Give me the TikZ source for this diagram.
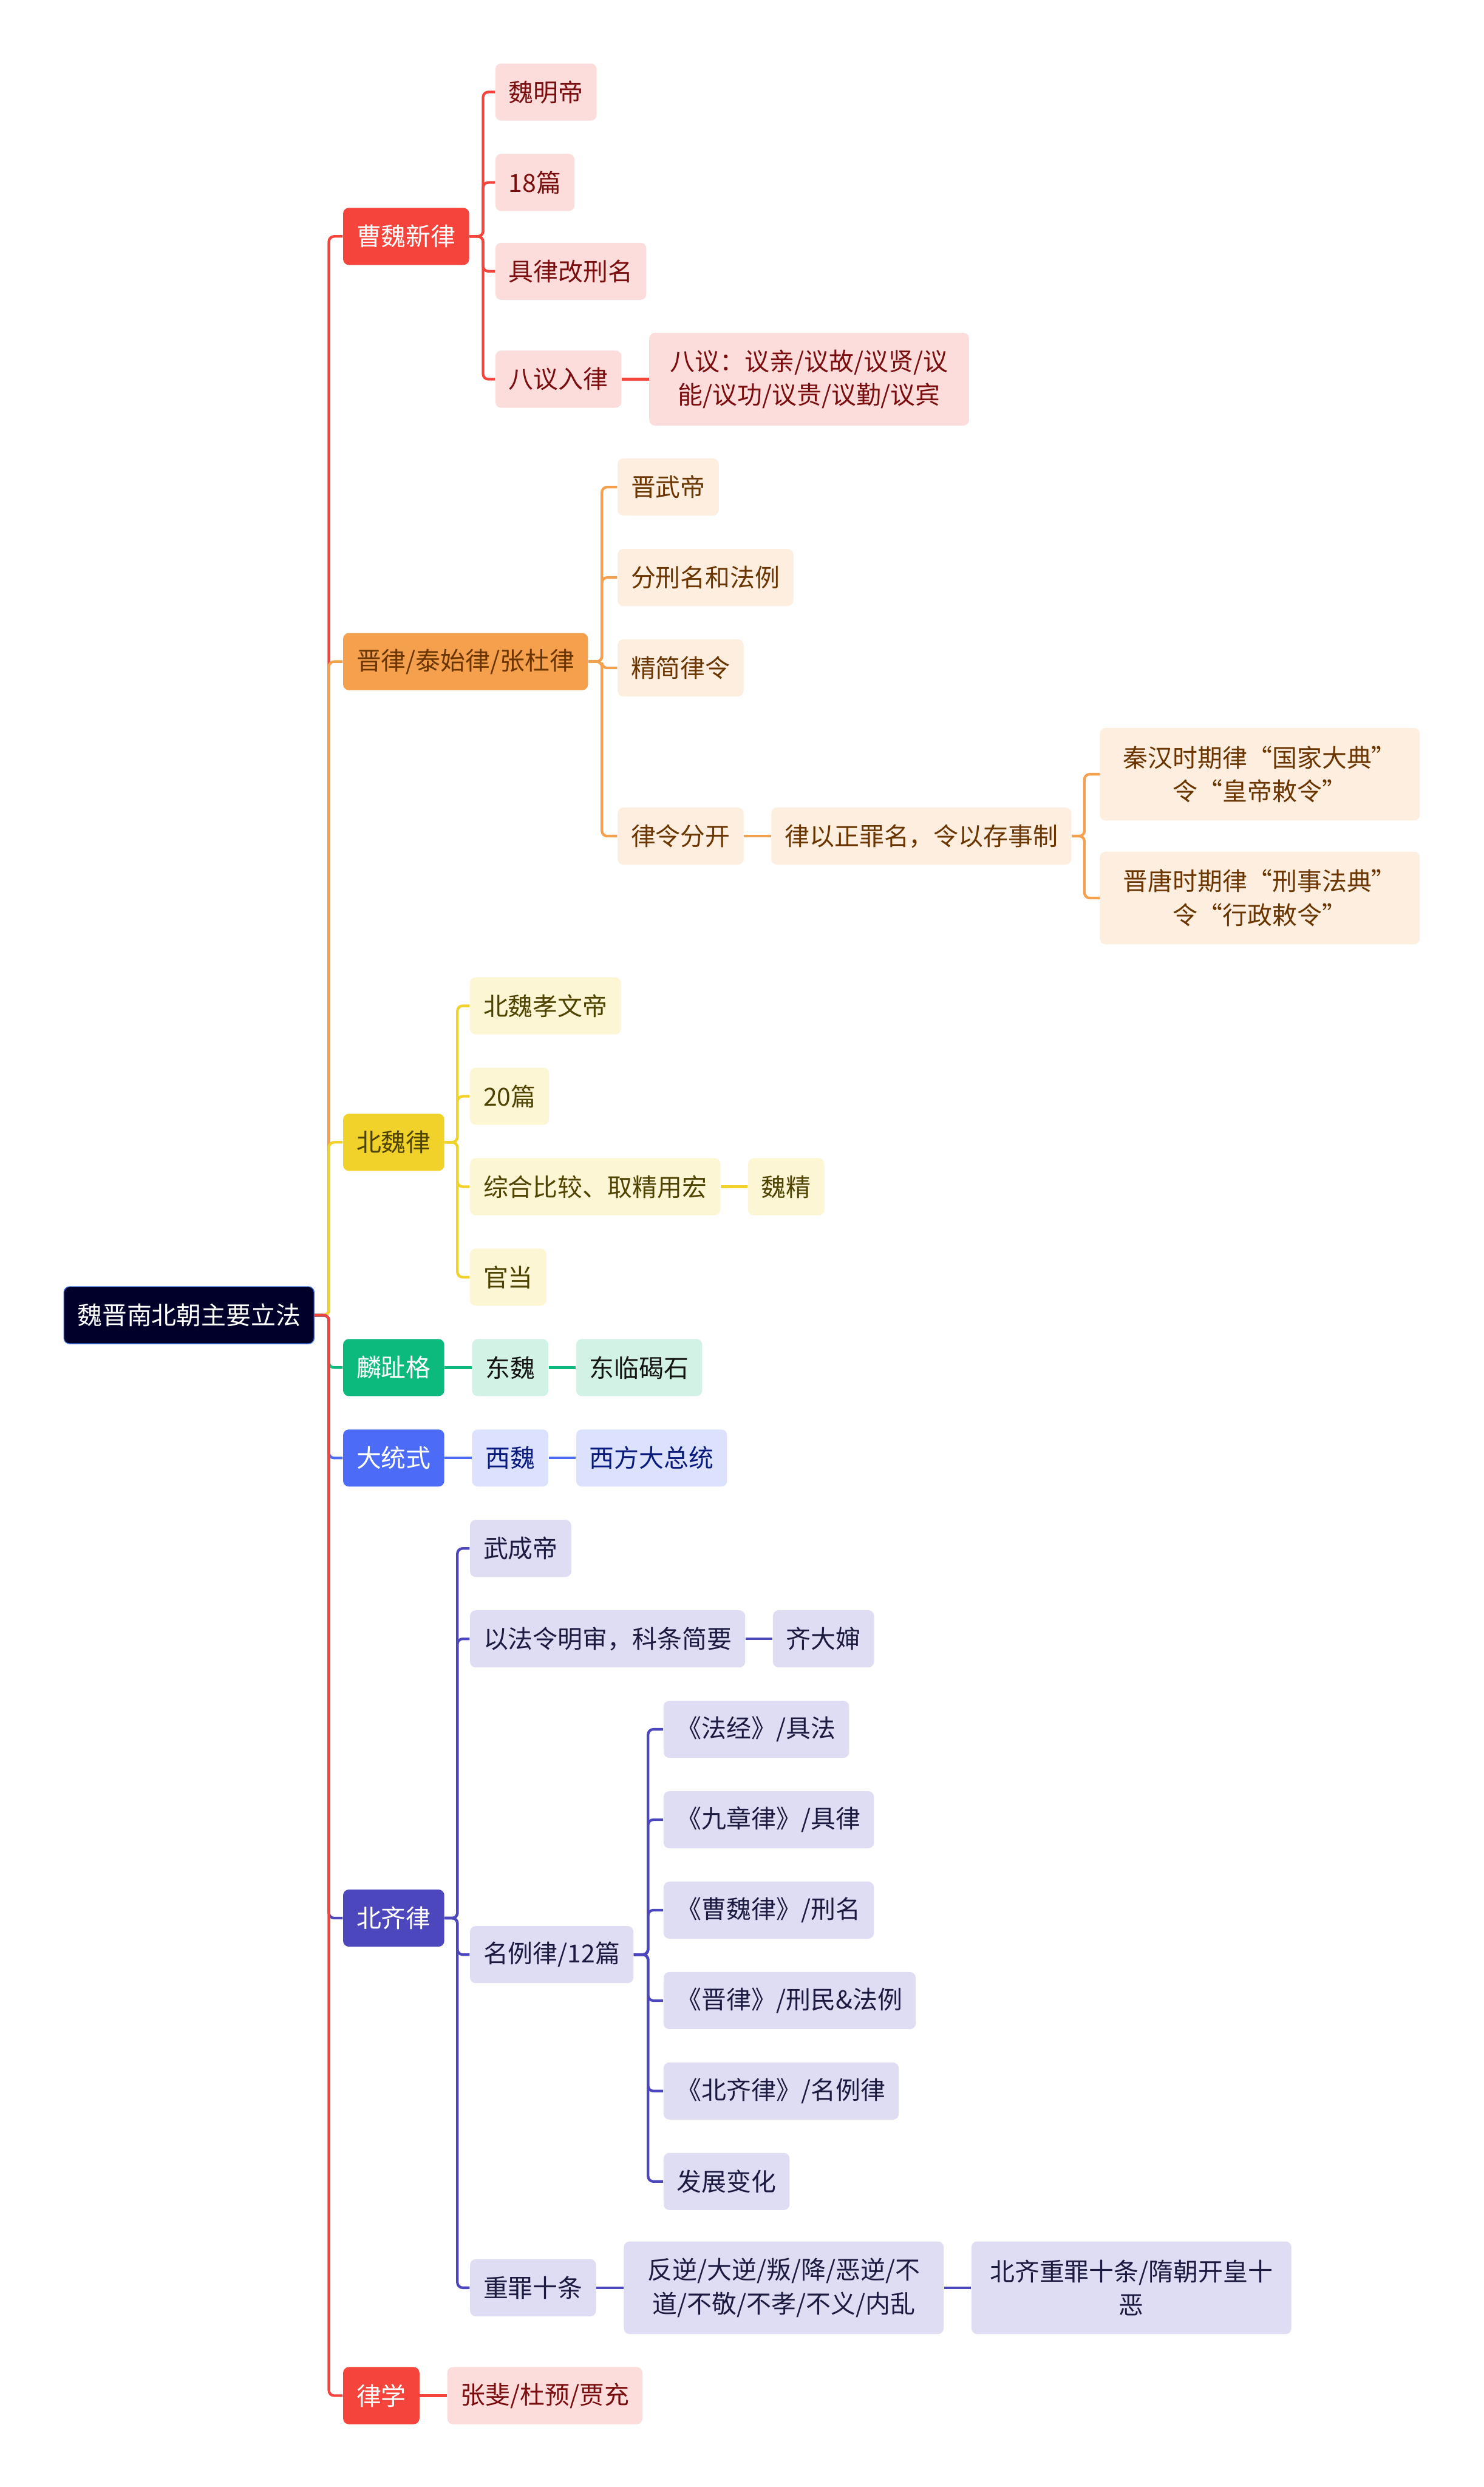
\documentclass[tikz,border=0pt]{standalone}
\usepackage{fontspec}
\newfontfamily\cjk{Noto Sans CJK SC}
\usetikzlibrary{positioning}

\definecolor{rootbg}{HTML}{00002A}
\definecolor{rootline}{HTML}{3F6FDB}
\definecolor{cwred}{HTML}{F5443B}
\definecolor{cwlight}{HTML}{FDDCDC}
\definecolor{cwtext}{HTML}{7A0D0D}
\definecolor{jlorange}{HTML}{F4A04D}
\definecolor{jllight}{HTML}{FDEEDF}
\definecolor{jltext}{HTML}{6B3500}
\definecolor{bwyellow}{HTML}{F0D22A}
\definecolor{bwlight}{HTML}{FCF6D5}
\definecolor{bwtext}{HTML}{4F4300}
\definecolor{lzgreen}{HTML}{0DBA7D}
\definecolor{lzlight}{HTML}{D1F2E4}
\definecolor{lztext}{HTML}{141414}
\definecolor{dtblue}{HTML}{4C6CF7}
\definecolor{dtlight}{HTML}{DCE2FD}
\definecolor{dttext}{HTML}{0A1B7E}
\definecolor{bqpurple}{HTML}{4D47BE}
\definecolor{bqlight}{HTML}{DEDDF3}
\definecolor{bqtext}{HTML}{1C1A40}

\begin{document}
\begin{tikzpicture}[
  x=0.2738mm, y=-0.2738mm,
  node distance=4.65mm,
  box/.style={rounded corners=1mm, inner xsep=2.3mm, inner ysep=1mm, minimum height=9.86mm, align=center, font={\cjk\fontsize{12.2pt}{16.5pt}\selectfont}},
  root/.style={box, fill=rootbg, draw=rootline, line width=0.15mm, text=white},
  item/.style 2 args={box, fill=#1, text=#2},
  wide/.style={text width=50.6mm, minimum height=16mm},
  link/.style={draw=#1, line width=0.45mm, rounded corners=0.9mm}
]
\fill[white] (0,0) rectangle (935,1567.6);
\useasboundingbox (0,0) rectangle (935,1567.6);

% root and main branches
\node[root, anchor=west] (root) at (40,829) {魏晋南北朝主要立法};
\node[item={cwred}{white}, anchor=west] (cw) at (216,149) {曹魏新律};
\node[item={jlorange}{jltext}, anchor=west] (jl) at (216,417) {晋律/泰始律/张杜律};
\node[item={bwyellow}{bwtext}, anchor=west] (bw) at (216,720) {北魏律};
\node[item={lzgreen}{white}, anchor=west] (lz) at (216,862) {麟趾格};
\node[item={dtblue}{white}, anchor=west] (dt) at (216,919) {大统式};
\node[item={bqpurple}{white}, anchor=west] (bq) at (216,1209) {北齐律};
\node[item={cwred}{white}, anchor=west] (lx) at (216,1510) {律学};

% 曹魏新律
\node[item={cwlight}{cwtext}, anchor=west] (cw1) at (312,58) {魏明帝};
\node[item={cwlight}{cwtext}, anchor=west] (cw2) at (312,115) {18篇};
\node[item={cwlight}{cwtext}, anchor=west] (cw3) at (312,171) {具律改刑名};
\node[item={cwlight}{cwtext}, anchor=west] (cw4) at (312,239) {八议入律};
\node[item={cwlight}{cwtext}, wide, right=of cw4] (cw5) {八议：议亲/议故/议贤/议\\能/议功/议贵/议勤/议宾};

% 晋律
\node[item={jllight}{jltext}, anchor=west] (jl1) at (389,307) {晋武帝};
\node[item={jllight}{jltext}, anchor=west] (jl2) at (389,364) {分刑名和法例};
\node[item={jllight}{jltext}, anchor=west] (jl3) at (389,421) {精简律令};
\node[item={jllight}{jltext}, anchor=west] (jl4) at (389,527) {律令分开};
\node[item={jllight}{jltext}, right=of jl4] (jl5) {律以正罪名，令以存事制};
\node[item={jllight}{jltext}, wide, anchor=west] (jl6) at (693,488) {秦汉时期律“国家大典”\\令“皇帝敕令”};
\node[item={jllight}{jltext}, wide, anchor=west] (jl7) at (693,566) {晋唐时期律“刑事法典”\\令“行政敕令”};

% 北魏律
\node[item={bwlight}{bwtext}, anchor=west] (bw1) at (296,634) {北魏孝文帝};
\node[item={bwlight}{bwtext}, anchor=west] (bw2) at (296,691) {20篇};
\node[item={bwlight}{bwtext}, anchor=west] (bw3) at (296,748) {综合比较、取精用宏};
\node[item={bwlight}{bwtext}, right=of bw3] (bw4) {魏精};
\node[item={bwlight}{bwtext}, anchor=west] (bw5) at (296,805) {官当};

% 麟趾格, 大统式
\node[item={lzlight}{lztext}, right=of lz] (lz1) {东魏};
\node[item={lzlight}{lztext}, right=of lz1] (lz2) {东临碣石};
\node[item={dtlight}{dttext}, right=of dt] (dt1) {西魏};
\node[item={dtlight}{dttext}, right=of dt1] (dt2) {西方大总统};

% 北齐律
\node[item={bqlight}{bqtext}, anchor=west] (bq1) at (296,976) {武成帝};
\node[item={bqlight}{bqtext}, anchor=west] (bq2) at (296,1033) {以法令明审，科条简要};
\node[item={bqlight}{bqtext}, right=of bq2] (bq3) {齐大婶};
\node[item={bqlight}{bqtext}, anchor=west] (bq4) at (296,1232) {名例律/12篇};
\node[item={bqlight}{bqtext}, anchor=west] (bq5) at (296,1442) {重罪十条};
\node[item={bqlight}{bqtext}, wide, right=of bq5] (bq6) {反逆/大逆/叛/降/恶逆/不\\道/不敬/不孝/不义/内乱};
\node[item={bqlight}{bqtext}, wide, right=of bq6] (bq7) {北齐重罪十条/隋朝开皇十\\恶};
\node[item={bqlight}{bqtext}, anchor=west] (ml1) at (418,1090) {《法经》/具法};
\node[item={bqlight}{bqtext}, anchor=west] (ml2) at (418,1147) {《九章律》/具律};
\node[item={bqlight}{bqtext}, anchor=west] (ml3) at (418,1204) {《曹魏律》/刑名};
\node[item={bqlight}{bqtext}, anchor=west] (ml4) at (418,1261) {《晋律》/刑民\&法例};
\node[item={bqlight}{bqtext}, anchor=west] (ml5) at (418,1318) {《北齐律》/名例律};
\node[item={bqlight}{bqtext}, anchor=west] (ml6) at (418,1375) {发展变化};

% 律学
\node[item={cwlight}{cwtext}, right=of lx] (lx1) {张斐/杜预/贾充};

% connectors
\foreach \c/\col in {cw/cwred, jl/jlorange, bw/bwyellow, lz/lzgreen, dt/dtblue, bq/bqpurple, lx/cwred}
  \draw[link=\col] (root.east) -- ++(9,0) |- (\c.west);
\foreach \c in {cw1,cw2,cw3,cw4}
  \draw[link=cwred] (cw.east) -- ++(8.5,0) |- (\c.west);
\draw[link=cwred] (cw4) -- (cw5);
\foreach \c in {jl1,jl2,jl3,jl4}
  \draw[link=jlorange] (jl.east) -- ++(8.5,0) |- (\c.west);
\draw[link=jlorange] (jl4) -- (jl5);
\foreach \c in {jl6,jl7}
  \draw[link=jlorange] (jl5.east) -- ++(8,0) |- (\c.west);
\foreach \c in {bw1,bw2,bw3,bw5}
  \draw[link=bwyellow] (bw.east) -- ++(8,0) |- (\c.west);
\draw[link=bwyellow] (bw3) -- (bw4);
\foreach \a/\b in {lz/lz1,lz1/lz2}
  \draw[link=lzgreen] (\a) -- (\b);
\foreach \a/\b in {dt/dt1,dt1/dt2}
  \draw[link=dtblue] (\a) -- (\b);
\foreach \c in {bq1,bq2,bq4,bq5}
  \draw[link=bqpurple] (bq.east) -- ++(8,0) |- (\c.west);
\foreach \a/\b in {bq2/bq3,bq5/bq6,bq6/bq7}
  \draw[link=bqpurple] (\a) -- (\b);
\foreach \c in {ml1,ml2,ml3,ml4,ml5,ml6}
  \draw[link=bqpurple] (bq4.east) -- ++(9,0) |- (\c.west);
\draw[link=cwred] (lx) -- (lx1);
\end{tikzpicture}
\end{document}
